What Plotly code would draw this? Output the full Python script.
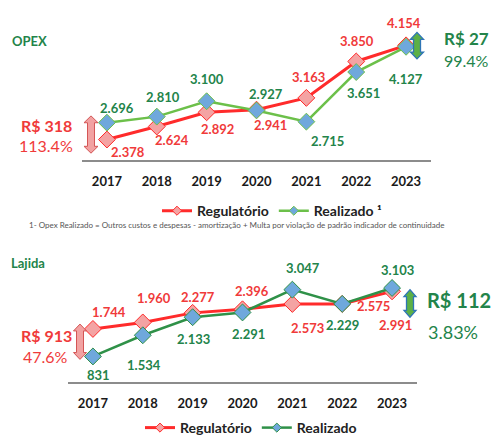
import plotly.graph_objects as go

# ---------------- data ----------------
years = ["2017", "2018", "2019", "2020", "2021", "2022", "2023"]
opex_regulatorio = [2378, 2624, 2892, 2941, 3163, 3850, 4154]
opex_realizado = [2696, 2810, 3100, 2927, 2715, 3651, 4127]
lajida_regulatorio = [1744, 1960, 2277, 2396, 2573, 2575, 2991]
lajida_realizado = [831, 1534, 2133, 2291, 3047, 2229, 3103]
# position at which the reference chart draws the Lajida "Realizado" points
lajida_realizado_drawn = [831, 1534, 2133, 2291, 3047, 2575, 3103]

# ---------------- styling ----------------
W, H = 492, 444
FONT = "Lato"
RED = "#FF2B2B"
RED_TXT = "#F03A3A"
RED_MK = "#F4A3A3"
GREEN_L = "#6CC04A"
GREEN_D = "#2F9148"
GREEN_TXT = "#23844A"
BLUE_MK = "#6FA8DC"


def px(x):
    return x / W


def py(y):
    return 1 - y / H


def fmt(v):
    return f"{v:,}".replace(",", ".")


fig = go.Figure()


def series(y, name, lc, lw, mc, xa, ya, leg):
    fig.add_trace(go.Scatter(x=years, y=y, mode="lines+markers", name=name, showlegend=False,
                             line=dict(color=lc, width=lw),
                             marker=dict(symbol="diamond", size=13, color=mc, line=dict(color=lc, width=1)),
                             xaxis=xa, yaxis=ya))
    # legend entry (smaller symbol, as in the reference)
    fig.add_trace(go.Scatter(x=[None], y=[None], mode="lines+markers", name=name, showlegend=True,
                             line=dict(color=lc, width=lw),
                             marker=dict(symbol="diamond", size=7, color=mc, line=dict(color=lc, width=1)),
                             xaxis=xa, yaxis=ya, legend=leg))


series(opex_regulatorio, "Regulatório", RED, 3, RED_MK, "x", "y", "legend")
series(opex_realizado, "Realizado ¹", GREEN_L, 2.5, BLUE_MK, "x", "y", "legend")
series(lajida_regulatorio, "Regulatório", RED, 3, RED_MK, "x2", "y2", "legend2")
series(lajida_realizado_drawn, "Realizado", GREEN_D, 2.5, BLUE_MK, "x2", "y2", "legend2")

# ---------------- data labels (pixel offsets: dx right, dy down) ----------------
opex_reg_off = [(21, 12), (15, 14), (11, 17), (14, 15), (2, -21), (1, -20), (-2, -22)]
opex_real_off = [(10, -15), (6, -20), (0, -22), (9, -16), (21, 19), (7, 21), (0, 32)]
laj_reg_off = [(16, -17), (11, -24), (5, -16), (9, -18), (15, 24), (31, 2), (3, 34)]
laj_real_off = [(6, 19), (1, 30), (1, 22), (6, 22), (11, -22), (0, 21), (5, -18)]

annotations = []


def add_labels(vals, ypos, offs, color, xa, ya):
    for i, (v, yv, (dx, dy)) in enumerate(zip(vals, ypos, offs)):
        annotations.append(dict(x=i, y=yv, xref=xa, yref=ya, text=fmt(v), showarrow=False,
                                xshift=dx, yshift=-dy, xanchor="center", yanchor="middle",
                                font=dict(family=FONT, size=13, color=color, weight="bold")))


add_labels(opex_regulatorio, opex_regulatorio, opex_reg_off, RED_TXT, "x", "y")
add_labels(opex_realizado, opex_realizado, opex_real_off, GREEN_TXT, "x", "y")
add_labels(lajida_regulatorio, lajida_regulatorio, laj_reg_off, RED_TXT, "x2", "y2")
add_labels(lajida_realizado, lajida_realizado_drawn, laj_real_off, GREEN_TXT, "x2", "y2")


def text(x, y, s, color, size, bold=False, anchor="center"):
    annotations.append(dict(x=px(x), y=py(y), xref="paper", yref="paper", text=s, showarrow=False,
                            xanchor=anchor, yanchor="middle",
                            font=dict(family=FONT, size=size, color=color,
                                      weight="bold" if bold else "normal")))


text(10, 42, "OPEX", GREEN_TXT, 13, True, "left")
text(9, 268, "Lajida", GREEN_TXT, 13, True, "left")
text(46, 128, "R$ 318", RED_TXT, 16, True)
text(46, 148, "113.4%", RED_TXT, 16)
text(442, 39, "R$ 27", GREEN_TXT, 17, True, "left")
text(442, 62, "99.4%", GREEN_TXT, 16, False, "left")
text(46, 342, "R$ 913", RED_TXT, 16, True)
text(45, 363, "47.6%", RED_TXT, 16)
text(425, 306, "R$ 112", GREEN_TXT, 20, True, "left")
text(453, 338, "3.83%", GREEN_TXT, 18)
text(27, 229, "1- Opex Realizado = Outros custos e despesas - amortização + Multa por violação de padrão indicador de continuidade",
     "#555555", 8, False, "left")


def darrow(cx, y1, y2, sw, hw, hl, fill, line, lw):
    pts = [(cx, y1), (cx + hw, y1 + hl), (cx + sw, y1 + hl), (cx + sw, y2 - hl), (cx + hw, y2 - hl),
           (cx, y2), (cx - hw, y2 - hl), (cx - sw, y2 - hl), (cx - sw, y1 + hl), (cx - hw, y1 + hl)]
    path = "M " + " L ".join(f"{px(a):.5f},{py(b):.5f}" for a, b in pts) + " Z"
    return dict(type="path", xref="paper", yref="paper", path=path, fillcolor=fill,
                line=dict(color=line, width=lw), layer="above")


shapes = [
    darrow(91, 118, 156, 3.5, 7, 7, "#F2A2A2", "#D45555", 1),
    darrow(417, 33, 60, 3.5, 6.5, 7, "#5CB046", "#2E75B6", 1.3),
    darrow(80, 330, 366, 3.5, 6.5, 7, "#F2A2A2", "#D45555", 1),
    darrow(410, 295, 323, 3.5, 6, 7, "#5CB046", "#2E75B6", 1.3),
]

xcommon = dict(type="category", range=[-0.5, 6.5], showgrid=False, zeroline=False, showline=True,
               linecolor="#8C8C8C", linewidth=2, ticks="", ticklabelstandoff=9,
               tickfont=dict(family=FONT, size=13, color="#1A1A1A", weight="bold"))
ycommon = dict(visible=False, showgrid=False, zeroline=False)

legfont = dict(family=FONT, size=14, color="#222222", weight="bold")

fig.update_layout(
    width=W, height=H, margin=dict(l=0, r=0, t=0, b=0),
    paper_bgcolor="white", plot_bgcolor="white",
    xaxis=dict(xcommon, domain=[px(82), px(431)], anchor="y"),
    yaxis=dict(ycommon, domain=[py(162.5), py(14)], range=[2000, 4750], anchor="x"),
    xaxis2=dict(xcommon, domain=[px(68), px(417)], anchor="y2"),
    yaxis2=dict(ycommon, domain=[py(388.5), py(258)], range=[0, 4252], anchor="x2"),
    legend=dict(orientation="h", x=px(157), y=py(215), xanchor="left", yanchor="middle",
                font=legfont, bgcolor="rgba(0,0,0,0)", itemwidth=30),
    legend2=dict(orientation="h", x=px(140), y=py(436), xanchor="left", yanchor="middle",
                 font=legfont, bgcolor="rgba(0,0,0,0)", itemwidth=30),
    annotations=annotations, shapes=shapes,
    showlegend=True,
)

fig.write_html("out.html", config={"displayModeBar": False},
               post_script="document.body.style.margin='0';document.body.style.overflow='hidden';")
